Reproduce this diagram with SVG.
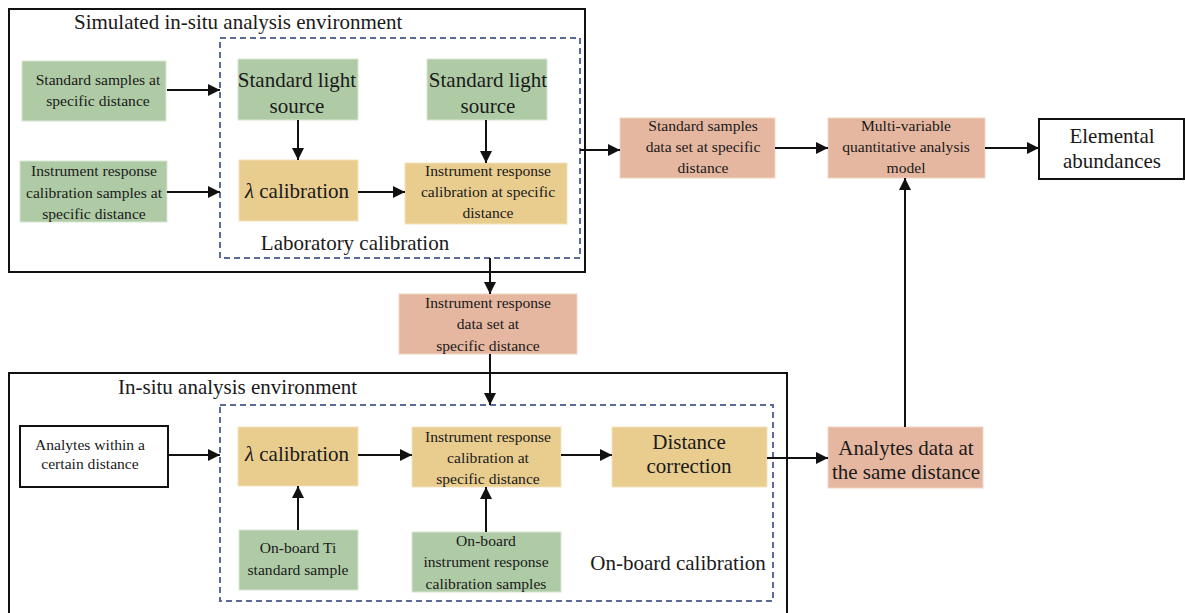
<svg xmlns="http://www.w3.org/2000/svg" width="1185" height="613" viewBox="0 0 1185 613" font-family="'Liberation Serif','Times New Roman',serif">
<style>
text{font-family:"Liberation Serif","Times New Roman",serif;fill:#1a1a1a;text-anchor:middle}
.s{font-size:15.6px}
.m{font-size:21px}
.t{font-size:21px;text-anchor:start}
.g{fill:#afcba6;stroke:#d8e6d2;stroke-width:1}
.y{fill:#e9cd8f;stroke:#f3e2bb;stroke-width:1}
.p{fill:#e6b7a0;stroke:#f2d5c6;stroke-width:1}
.w{fill:#fff;stroke:#111;stroke-width:2}
.outer{fill:none;stroke:#111;stroke-width:2}
.dash{fill:none;stroke:#5c6a99;stroke-width:2;stroke-dasharray:6,4}
.c{fill:none;stroke:#111;stroke-width:2;marker-end:url(#ah)}
</style>
<defs>
<marker id="ah" viewBox="0 0 10 10" refX="10" refY="5" markerWidth="6" markerHeight="6" markerUnits="strokeWidth" orient="auto">
<path d="M0,0 L10,5 L0,10 z" fill="#111"/>
</marker>
</defs>
<rect width="1185" height="613" fill="#fff"/>

<g id="env-top">
<rect class="outer" x="9" y="9" width="576" height="263"/>
<text class="t" x="74" y="29">Simulated in-situ analysis environment</text>
</g>
<g id="lab-cal">
<rect class="dash" x="220" y="38" width="360" height="220"/>
<text class="m" x="355" y="250">Laboratory calibration</text>
</g>
<g id="env-bottom">
<rect class="outer" x="9" y="373" width="778" height="250"/>
<text class="t" x="118" y="394">In-situ analysis environment</text>
</g>
<g id="onboard-cal">
<rect class="dash" x="220" y="405" width="553" height="196"/>
<text class="m" x="678" y="570">On-board calibration</text>
</g>

<g id="std-samples">
<rect class="g" x="22" y="61" width="144" height="60"/>
<text class="s" x="98" y="85">Standard samples at</text>
<text class="s" x="98" y="106">specific distance</text>
</g>
<g id="ir-cal-samples">
<rect class="g" x="20" y="161" width="147" height="61"/>
<text class="s" x="94" y="176">Instrument response</text>
<text class="s" x="94" y="198">calibration samples at</text>
<text class="s" x="94" y="219">specific distance</text>
</g>
<g id="sls1">
<rect class="g" x="238" y="59" width="120" height="61"/>
<text class="m" x="297" y="87">Standard light</text>
<text class="m" x="297" y="113">source</text>
</g>
<g id="sls2">
<rect class="g" x="427" y="59" width="120" height="61"/>
<text class="m" x="488" y="87">Standard light</text>
<text class="m" x="488" y="113">source</text>
</g>
<g id="lambda-top">
<rect class="y" x="239" y="160" width="119" height="61"/>
<text class="m" x="297" y="198"><tspan font-style="italic">λ</tspan> calibration</text>
</g>
<g id="ir-cal-top">
<rect class="y" x="405" y="163" width="162" height="61"/>
<text class="s" x="488" y="176">Instrument response</text>
<text class="s" x="488" y="197">calibration at specific</text>
<text class="s" x="488" y="218">distance</text>
</g>
<g id="std-dataset">
<rect class="p" x="620" y="118" width="155" height="60"/>
<text class="s" x="703" y="131">Standard samples</text>
<text class="s" x="703" y="152">data set at specific</text>
<text class="s" x="703" y="173">distance</text>
</g>
<g id="mv-model">
<rect class="p" x="828" y="118" width="157" height="60"/>
<text class="s" x="906" y="131">Multi-variable</text>
<text class="s" x="906" y="152">quantitative analysis</text>
<text class="s" x="906" y="173">model</text>
</g>
<g id="elemental">
<rect class="w" x="1039" y="119" width="145" height="60"/>
<text class="m" x="1112" y="143">Elemental</text>
<text class="m" x="1112" y="168">abundances</text>
</g>
<g id="ir-dataset">
<rect class="p" x="399" y="294" width="178" height="60"/>
<text class="s" x="488" y="308">Instrument response</text>
<text class="s" x="488" y="329">data set at</text>
<text class="s" x="488" y="351">specific distance</text>
</g>
<g id="analytes-within">
<rect class="w" x="20" y="426" width="148" height="61"/>
<text class="s" x="90" y="450">Analytes within a</text>
<text class="s" x="90" y="469">certain distance</text>
</g>
<g id="lambda-bottom">
<rect class="y" x="238" y="427" width="120" height="59"/>
<text class="m" x="297" y="461"><tspan font-style="italic">λ</tspan> calibration</text>
</g>
<g id="ir-cal-bottom">
<rect class="y" x="412" y="427" width="149" height="60"/>
<text class="s" x="488" y="442">Instrument response</text>
<text class="s" x="488" y="463">calibration at</text>
<text class="s" x="488" y="484">specific distance</text>
</g>
<g id="distance-corr">
<rect class="y" x="612" y="427" width="155" height="60"/>
<text class="m" x="689" y="449">Distance</text>
<text class="m" x="689" y="473">correction</text>
</g>
<g id="onboard-ti">
<rect class="g" x="239" y="530" width="119" height="60"/>
<text class="s" x="298" y="553">On-board Ti</text>
<text class="s" x="298" y="575">standard sample</text>
</g>
<g id="onboard-ir">
<rect class="g" x="412" y="532" width="149" height="60"/>
<text class="s" x="486" y="546">On-board</text>
<text class="s" x="486" y="567">instrument response</text>
<text class="s" x="486" y="589">calibration samples</text>
</g>
<g id="analytes-data">
<rect class="p" x="828" y="427" width="155" height="61"/>
<text class="m" x="906" y="455">Analytes data at</text>
<text class="m" x="906" y="479">the same distance</text>
</g>

<g id="connectors">
<path class="c" d="M167,90 H220"/>
<path class="c" d="M167,192 H220"/>
<path class="c" d="M298,120 V160"/>
<path class="c" d="M486,120 V163"/>
<path class="c" d="M358,192 H405"/>
<path class="c" d="M580,150 H620"/>
<path class="c" d="M775,148 H828"/>
<path class="c" d="M985,148 H1039"/>
<path class="c" d="M490,258 V294"/>
<path class="c" d="M490,354 V405"/>
<path class="c" d="M168,455 H220"/>
<path class="c" d="M358,455 H412"/>
<path class="c" d="M561,455 H612"/>
<path class="c" d="M298,530 V486"/>
<path class="c" d="M486,532 V487"/>
<path class="c" d="M767,458 H828"/>
<path class="c" d="M905,427 V178"/>
</g>
</svg>
